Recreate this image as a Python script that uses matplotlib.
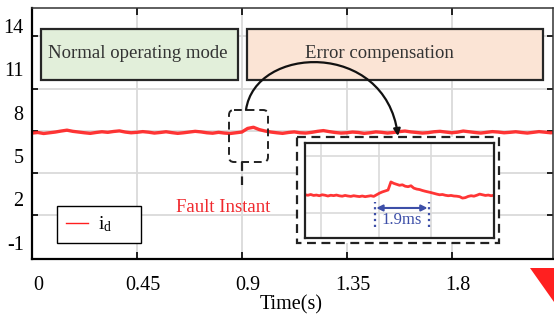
import matplotlib.pyplot as plt
import matplotlib.transforms as mtransforms
from matplotlib.patches import Rectangle, FancyBboxPatch, FancyArrowPatch, Polygon
from matplotlib.path import Path
from matplotlib.lines import Line2D

plt.rcParams['font.family'] = ['Liberation Serif', 'DejaVu Serif']
plt.rcParams['mathtext.fontset'] = 'stix'

# d-axis current over the whole run (sampled every 0.025 s)
id_main = [
    6.58, 6.62, 6.55, 6.60, 6.65, 6.72, 6.78, 6.70, 6.65, 6.60,
    6.56, 6.62, 6.67, 6.63, 6.69, 6.73, 6.65, 6.60, 6.63, 6.68,
    6.64, 6.58, 6.62, 6.67, 6.61, 6.56, 6.60, 6.65, 6.70, 6.66,
    6.60, 6.57, 6.63, 6.58, 6.55, 6.60, 6.65, 6.90, 6.98, 6.82,
    6.72, 6.65, 6.60, 6.56, 6.62, 6.66, 6.60, 6.58, 6.63, 6.70,
    6.75, 6.68, 6.62, 6.58, 6.60, 6.65, 6.62, 6.56, 6.60, 6.66,
    6.63, 6.58, 6.62, 6.68, 6.72, 6.66, 6.62, 6.58, 6.61, 6.67,
    6.70, 6.65, 6.60, 6.64, 6.72, 6.67, 6.62, 6.58, 6.63, 6.68,
    6.65, 6.60, 6.63, 6.67, 6.62, 6.58, 6.63, 6.68, 6.64, 6.60,
    6.63]
time_main = [i * 0.025 for i in range(len(id_main))]

# zoomed view around the fault (sampled every 0.1 ms)
id_zoom = [
    4.55, 4.50, 4.58, 4.48, 4.52, 4.45, 4.55, 4.50, 4.42, 4.50,
    4.46, 4.52, 4.44, 4.40, 4.48, 4.42, 4.38, 4.45, 4.40, 4.36,
    4.42, 4.35, 4.40, 4.45, 4.38, 4.55, 4.72, 4.85, 4.95, 5.05,
    5.90, 5.75, 5.65, 5.55, 5.60, 5.45, 5.40, 5.50, 5.25, 5.15,
    5.10, 5.00, 4.92, 4.85, 4.78, 4.70, 4.62, 4.55, 4.58, 4.50,
    4.45, 4.48, 4.42, 4.40, 4.35, 4.20, 4.25, 4.38, 4.45, 4.40,
    4.50, 4.62, 4.55, 4.48, 4.52, 4.45, 4.50]
time_zoom = [i * 0.1 for i in range(len(id_zoom))]

x_ticks = [0, 0.45, 0.9, 1.35, 1.8]
x_labels = ['0', '0.45', '0.9', '1.35', '1.8']
y_ticks = [-1, 2, 5, 8, 11, 14]
y_labels = ['-1', '2', '5', '8', '11', '14']
y_grid = [0.92, 3.82, 6.72, 9.62, 13.3]

fig = plt.figure(figsize=(5.54, 3.2), dpi=100)
# pixel coordinates of the picture, origin at top left
px = mtransforms.Affine2D().scale(1 / 554, -1 / 320).translate(0, 1) + fig.transFigure

ax = fig.add_axes([32 / 554, 61 / 320, 521 / 554, 251 / 320])
ax.plot(time_main, id_main, color='#ff1f1f', lw=2.4, alpha=0.9)
ax.set_xlim(0, 2.235)
ax.set_ylim(-2.12, 15.22)

ax.set_xticks(x_ticks)
ax.set_xticklabels(x_labels, fontsize=14.5)
ax.set_yticks(y_ticks)
ax.set_yticklabels(y_labels, fontsize=14.5)
ax.set_yticks(y_grid, minor=True)
ax.tick_params(axis='y', which='major', length=0, pad=6)
ax.tick_params(axis='y', which='minor', direction='in', length=4, width=1.2, left=True, right=True)
ax.tick_params(axis='x', direction='in', length=5, width=1.2, top=True, bottom=True, pad=12)
ax.grid(True, axis='x', color='#dadada', lw=1.3)
ax.grid(True, axis='y', which='minor', color='#dadada', lw=1.3)
ax.set_axisbelow(True)
for lbl in ax.get_xticklabels():
    lbl.set_transform(lbl.get_transform() + mtransforms.ScaledTranslation(6 / 100, 0, fig.dpi_scale_trans))
ax.set_xlabel('Time(s)', fontsize=14.5, labelpad=0)
ax.xaxis.set_label_coords(0.497, -0.145)
for s in ['left', 'bottom']:
    ax.spines[s].set_linewidth(1.6)
for s in ['top', 'right']:
    ax.spines[s].set_linewidth(1.1)
    ax.spines[s].set_color('#333333')

ax.legend(handles=[Line2D([], [], color='#ff1f1f', lw=1.0)],
          labels=[r'$\mathregular{i_d}$     '], loc='upper left',
          bbox_to_anchor=(57, 206), bbox_transform=px, fontsize=14,
          fancybox=False, edgecolor='black', framealpha=1,
          borderaxespad=0, borderpad=0.45, handlelength=1.15,
          handletextpad=0.5).get_frame().set_linewidth(1.0)

# mode boxes
fig.add_artist(Rectangle((41, 29), 197, 51, transform=px, facecolor='#e2efda',
                         edgecolor='#262626', lw=1.6, zorder=2))
fig.add_artist(Rectangle((247, 29), 296, 51, transform=px, facecolor='#fbe4d5',
                         edgecolor='#262626', lw=1.6, zorder=2))
fig.text(48, 54, 'Normal operating mode', transform=px, fontsize=13.5,
         color='#333333', ha='left', va='center', zorder=3)
fig.text(379, 54, 'Error compensation', transform=px, fontsize=13.5,
         color='#333333', ha='center', va='center', zorder=3)

# fault marker
fig.add_artist(FancyBboxPatch((229, 110), 39, 52, boxstyle='round,pad=0,rounding_size=5',
                              transform=px, facecolor='none', edgecolor='#222222',
                              lw=1.4, ls=(0, (4, 2.5)), zorder=3))
fig.add_artist(Line2D([242, 242], [162, 185], transform=px, color='#222222',
                      lw=1.6, ls=(0, (4, 2.5)), zorder=3))
fig.text(176, 207, 'Fault Instant', transform=px, fontsize=13.5, color='#f0282d',
         ha='left', va='center', zorder=3)

# zoom box
fig.add_artist(Rectangle((297, 137), 202, 106, transform=px, facecolor='white',
                         edgecolor='#222222', lw=1.6, ls=(0, (4, 2.5)), zorder=2))
axi = fig.add_axes([305 / 554, 82 / 320, 189 / 554, 95 / 320], zorder=3)
axi.plot(time_zoom, id_zoom, color='#ff1f1f', lw=2.0, alpha=0.9)
axi.set_xlim(0, 6.6)
axi.set_ylim(0, 10)
axi.set_xticks([0.55, 2.6, 4.4])
axi.set_yticks([2.6, 8.6])
axi.tick_params(length=0, labelbottom=False, labelleft=False)
axi.grid(True, color='#dadada', lw=1.2)
axi.set_axisbelow(True)
for s in axi.spines.values():
    s.set_linewidth(1.6)
    s.set_color('#222222')

blue = '#3d4fa8'
axi.plot([2.44, 2.44], [1.16, 3.79], color=blue, lw=1.6, ls=':')
axi.plot([4.33, 4.33], [1.16, 3.79], color=blue, lw=1.6, ls=':')
axi.annotate('', xy=(4.28, 3.16), xytext=(2.49, 3.16),
             arrowprops=dict(arrowstyle='<|-|>', color=blue, lw=1.5, mutation_scale=9,
                             shrinkA=0, shrinkB=0))
axi.text(3.39, 1.9, '1.9ms', color=blue, fontsize=12, ha='center', va='center')

# curved arrow from fault to zoom
arc = Path([(246, 110), (255, 45), (385, 40), (398, 136)],
           [Path.MOVETO, Path.CURVE4, Path.CURVE4, Path.CURVE4])
fig.add_artist(FancyArrowPatch(path=arc, transform=px, arrowstyle='-|>',
                               mutation_scale=10, color='#111111', lw=1.6, zorder=4))

fig.add_artist(Polygon([(530, 268), (554, 268), (554, 302)], closed=True,
                       transform=px, facecolor='#ff2020', edgecolor='none', zorder=4))

fig.savefig('out.png', dpi=100)
